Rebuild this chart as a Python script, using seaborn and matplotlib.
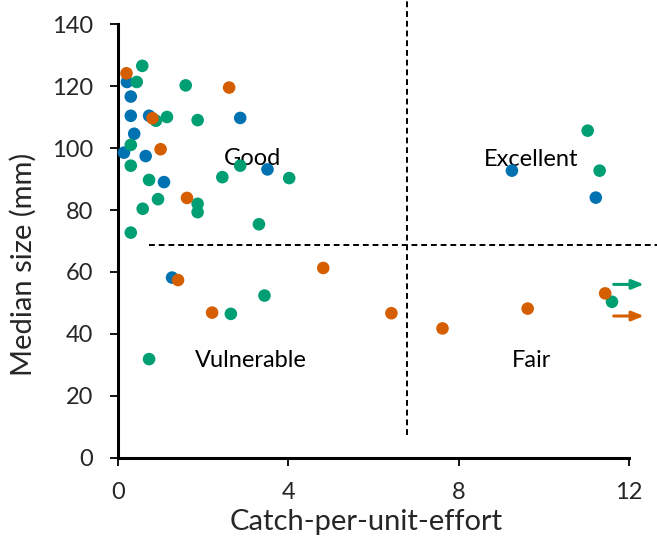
import matplotlib
matplotlib.use("Agg")
import matplotlib.pyplot as plt
import seaborn as sns
import pandas as pd

# Catch-per-unit-effort vs median size, three groups of sites
blue_cpue = [0.21, 0.30, 0.30, 0.73, 0.38, 0.14, 0.65, 1.08, 2.87, 3.51, 1.27, 9.25, 11.22]
blue_size = [121.3, 116.6, 110.4, 110.4, 104.6, 98.5, 97.4, 89.0, 109.7, 93.1, 58.2, 92.7, 84.0]

green_cpue = [0.57, 0.44, 1.59, 0.89, 1.15, 1.87, 0.30, 0.30, 0.73, 2.87, 2.45, 4.02,
              0.94, 0.58, 1.87, 1.87, 3.31, 0.30, 2.65, 3.44, 0.73, 11.03, 11.31, 11.60]
green_size = [126.5, 121.3, 120.2, 108.8, 110.0, 109.0, 101.0, 94.3, 89.7, 94.3, 90.6, 90.3,
              83.5, 80.4, 82.0, 79.3, 75.4, 72.7, 46.5, 52.4, 31.9, 105.6, 92.7, 50.4]

orange_cpue = [0.20, 0.81, 1.00, 2.61, 1.62, 1.41, 2.21, 4.82, 6.42, 7.62, 9.62, 11.44]
orange_size = [124.1, 109.6, 99.6, 119.5, 83.9, 57.4, 46.9, 61.3, 46.7, 41.8, 48.2, 53.1]

groups = ["A", "B", "C"]
colors = {"A": "#0072B2", "B": "#009E73", "C": "#D55E00"}

x_ticks = [0, 4, 8, 12]
y_ticks = [0, 20, 40, 60, 80, 100, 120, 140]

# threshold lines separating the four status classes
cpue_threshold = 6.78
size_threshold = 68.7

df = pd.concat([
    pd.DataFrame({"cpue": blue_cpue, "size": blue_size, "group": "A"}),
    pd.DataFrame({"cpue": green_cpue, "size": green_size, "group": "B"}),
    pd.DataFrame({"cpue": orange_cpue, "size": orange_size, "group": "C"}),
], ignore_index=True)

sns.set_style("white")
plt.rcParams["font.family"] = ["Lato", "DejaVu Sans"]

fig = plt.figure(figsize=(6.57, 5.42), dpi=100)
ax = fig.add_axes([0.1796, 0.155, 0.7778, 0.8007])

sns.scatterplot(data=df, x="cpue", y="size", hue="group", hue_order=groups,
                palette=colors, s=82, linewidth=0, alpha=1, legend=False, ax=ax,
                zorder=3, clip_on=False)

ax.set_xlim(0, 12)
ax.set_ylim(0, 140)
ax.set_xticks(x_ticks)
ax.set_yticks(y_ticks)

# dashed quadrant boundaries running past the plotting area
dash = (0, (3, 2))
ax.plot([cpue_threshold, cpue_threshold], [7.5, 147.8], ls=dash, color="black",
        lw=1.4, clip_on=False, zorder=2)
ax.plot([0.72, 12.7], [size_threshold, size_threshold], ls=dash, color="black",
        lw=1.4, clip_on=False, zorder=2)

# arrows marking values beyond the axis range
arrow_style = "-|>,head_length=0.7,head_width=0.28"
ax.annotate("", xy=(12.35, 56.0), xytext=(11.64, 56.0),
            arrowprops=dict(arrowstyle=arrow_style, color=colors["B"], lw=2.2,
                            shrinkA=0, shrinkB=0), annotation_clip=False)
ax.annotate("", xy=(12.35, 45.8), xytext=(11.64, 45.8),
            arrowprops=dict(arrowstyle=arrow_style, color=colors["C"], lw=2.2,
                            shrinkA=0, shrinkB=0), annotation_clip=False)

label_kw = dict(fontsize=17, ha="center", va="baseline", color="black", zorder=2)
ax.text(3.15, 94.6, "Good", **label_kw)
ax.text(9.70, 94.3, "Excellent", **label_kw)
ax.text(3.13, 29.4, "Vulnerable", **label_kw)
ax.text(9.72, 29.4, "Fair", **label_kw)

ax.set_xlabel("Catch-per-unit-effort", fontsize=21)
ax.set_ylabel("Median size (mm)", fontsize=21)
ax.xaxis.set_label_coords(0.485, -0.118)
ax.yaxis.set_label_coords(-0.160, 0.445)

sns.despine(ax=ax)
for side in ("left", "bottom"):
    ax.spines[side].set_linewidth(2.2)
    ax.spines[side].set_color("black")
ax.tick_params(axis="both", which="major", direction="out", length=6, width=1.3,
               labelsize=17, color="black", left=True, bottom=True)
ax.tick_params(axis="x", pad=11)
ax.tick_params(axis="y", pad=12)

fig.savefig("out.png", dpi=100)
